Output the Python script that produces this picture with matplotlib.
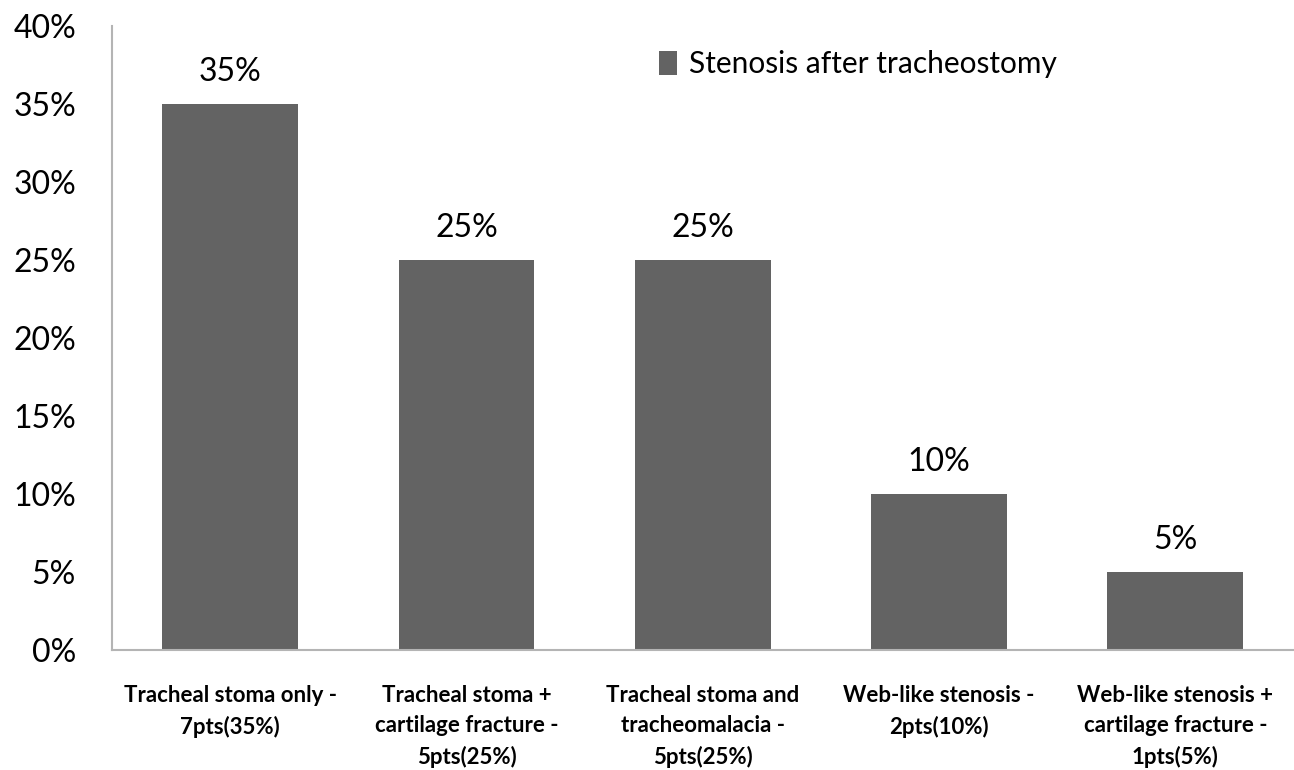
import matplotlib.pyplot as plt
import numpy as np

plt.rcParams['font.family'] = ['Lato', 'DejaVu Sans']

categories = ['Tracheal stoma only -\n7pts(35%)',
              'Tracheal stoma +\ncartilage fracture -\n5pts(25%)',
              'Tracheal stoma and\ntracheomalacia -\n5pts(25%)',
              'Web-like stenosis -\n2pts(10%)',
              'Web-like stenosis +\ncartilage fracture -\n1pts(5%)']
values = [35, 25, 25, 10, 5]
series_name = 'Stenosis after tracheostomy'
yticks = [0, 5, 10, 15, 20, 25, 30, 35, 40]

fig = plt.figure(figsize=(12.94, 7.70), dpi=100)
ax = fig.add_axes([0.0866, 0.156, 0.913, 0.81])

x = np.arange(len(values))
bars = ax.bar(x, values, width=0.575, color='#636363', label=series_name)
for xi, v in zip(x, values):
    ax.text(xi, v + 1.1, f'{v}%', ha='center', va='bottom', fontsize=23)

ax.set_xlim(-0.5, len(values) - 0.5)
ax.set_ylim(0, 40)
ax.set_yticks(yticks)
ax.set_yticklabels([f'{t}%' for t in yticks], fontsize=23)
ax.set_xticks(x)
ax.set_xticklabels(categories, fontsize=16, fontweight='bold', linespacing=1.55)
ax.tick_params(axis='y', length=0, pad=26)
ax.tick_params(axis='x', length=0, pad=25)

for s in ['top', 'right']:
    ax.spines[s].set_visible(False)
for s in ['left', 'bottom']:
    ax.spines[s].set_color('#b4b4b4')
    ax.spines[s].set_linewidth(1.5)

ax.legend(loc='upper left', bbox_to_anchor=(0.44, 1.005), frameon=False,
          fontsize=21.5, handlelength=0.6, handleheight=0.85, handletextpad=0.4)

fig.savefig('out.png', dpi=100)
